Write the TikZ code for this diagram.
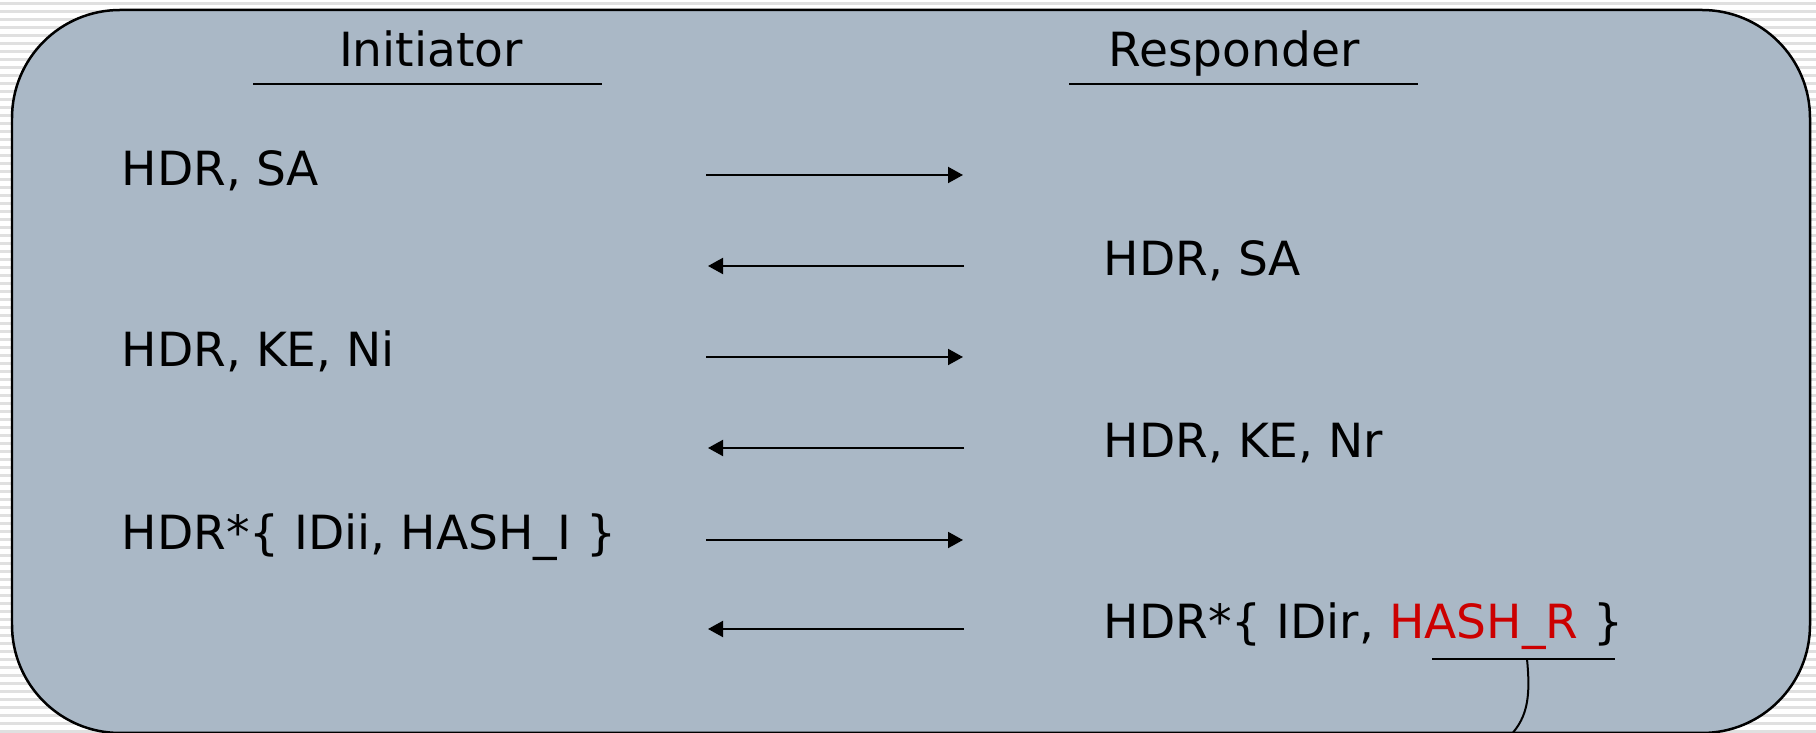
\documentclass[tikz,border=0pt]{standalone}
\usepackage{fontspec}
\setmainfont{DejaVu Sans}
\usetikzlibrary{arrows.meta}

\definecolor{panelfill}{RGB}{170,184,198}
\definecolor{stripe}{RGB}{224,224,224}
\definecolor{hashred}{RGB}{204,0,0}

\tikzset{
  msg/.style={anchor=base west, inner sep=0pt, font=\fontsize{13.4}{16}\selectfont},
  party/.style={anchor=base, inner sep=0pt, font=\fontsize{13.4}{16}\selectfont},
  flow/.style={-{Triangle[length=1.5mm,width=1.6mm]}, line width=0.2mm},
}

\begin{document}
\begin{tikzpicture}[x=0.1mm,y=-0.1mm]
\useasboundingbox (0,0) rectangle (1816,733);
% striped page behind the panel
\fill[white] (0,0) rectangle (1816,733);
\foreach \y in {2,10,...,730}
  \fill[stripe] (0,\y) rectangle (1816,\y+3);
\draw[line width=0.25mm, fill=panelfill, rounded corners=10.8mm] (12,10) rectangle (1810,733);

% the two parties
\node[party] (init) at (431,67) {Initiator};
\node[party] (resp) at (1234,67) {Responder};
\draw[line width=0.2mm] (253,84) -- (602,84);
\draw[line width=0.2mm] (1069,84) -- (1418,84);

% messages
\node[msg] (i1) at (121,186) {HDR, SA};
\node[msg] (r1) at (1103,276) {HDR, SA};
\node[msg] (i2) at (121,367) {HDR, KE, Ni};
\node[msg] (r2) at (1103,458) {HDR, KE, Nr};
\node[msg] (i3) at (121,550) {HDR*\{ IDii, HASH\_I \}};
\node[msg] (r3) at (1103,639) {HDR*\{ IDir, \textcolor{hashred}{HASH\_R} \}};

% exchange arrows
\foreach \y/\n in {175/1,357/2,540/3} {
  \coordinate (is\n) at (706,\y);
  \coordinate (ie\n) at (963,\y);
  \draw[flow] (is\n) -- (ie\n);
}
\foreach \y/\n in {266/1,448/2,629/3} {
  \coordinate (rs\n) at (964,\y);
  \coordinate (re\n) at (708,\y);
  \draw[flow] (rs\n) -- (re\n);
}

% bracket under HASH_R
\draw[line width=0.2mm] (1432,659) -- (1615,659);
\coordinate (hr) at (1527,659);
\coordinate (hrend) at (1506,740);
\draw[line width=0.2mm] (hr) .. controls (1531,700) and (1527,720) .. (hrend);
\end{tikzpicture}
\end{document}
